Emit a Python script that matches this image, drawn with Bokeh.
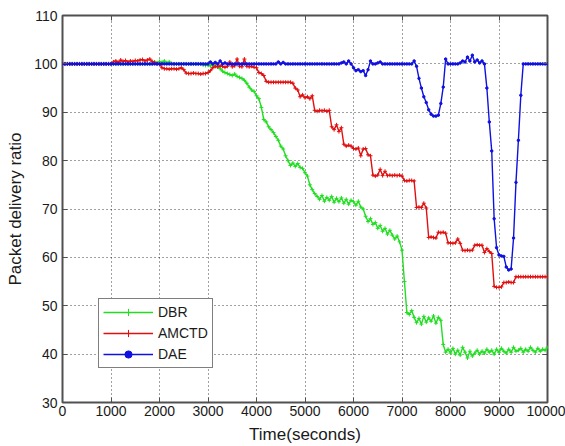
from bokeh.plotting import figure
from bokeh.models import Range1d, FixedTicker, LinearAxis, Legend, LegendItem
from bokeh.embed import file_html
from bokeh.resources import INLINE

# ---------------- data ----------------
time_s = list(range(0, 10001, 50))

dbr = [
    100, 100, 100, 100, 100, 100, 100, 100, 100, 100, 100, 100, 100, 100, 100, 100, 100, 100, 100, 100,
    100, 100, 100, 100, 100, 100, 100, 100, 100, 100, 100, 100, 100, 100, 100, 100, 100, 100, 100.4, 100.2,
    100.5, 100.3, 100.6, 100.2, 100.4, 100.1, 100, 100, 100, 100, 100, 100, 100, 100, 100, 100, 100, 100, 99.8, 99.7,
    99.7, 99.6, 99.8, 99.5, 99.4, 99.0, 98.5, 98.2, 98.0, 97.8, 97.6, 97.9, 97.4, 97.2, 97.0, 96.6, 96.0, 95.2, 94.6, 94.3,
    93.4, 92.8, 91.0, 88.5, 88.0, 87.0, 86.4, 85.8, 85.0, 84.2, 83.0, 82.4, 81.0, 80.0, 79.0, 79.5, 78.8, 79.4, 78.6, 78.4,
    77.5, 76.8, 75.0, 74.0, 73.2, 72.6, 72.0, 72.8, 71.6, 72.4, 71.8, 72.6, 71.4, 72.2, 71.5, 72.3, 71.2, 72.0, 71.0, 71.8,
    71.5, 70.8, 71.6, 70.4, 70.0, 68.5, 67.4, 68.0, 66.8, 67.2, 66.0, 66.6, 65.4, 66.0, 64.8, 65.6, 64.6, 63.8, 64.4, 63.2,
    61.5, 55.0, 48.6, 48.2, 49.0, 47.6, 46.5, 47.4, 46.2, 47.8, 46.6, 47.5, 46.8, 47.9, 46.4, 47.6, 47.0, 42.0, 40.4, 41.0,
    40.2, 41.2, 40.0, 40.8, 39.8, 41.4, 40.4, 39.2, 40.6, 39.6, 40.2, 40.8, 40.0, 40.6, 40.2, 41.0, 40.4, 40.8, 40.0, 41.0,
    40.4, 41.2, 40.6, 40.2, 41.0, 40.4, 41.4, 40.6, 40.8, 41.2, 40.4, 41.0, 40.6, 41.4, 40.8, 40.4, 41.2, 40.6, 41.0, 40.8,
    41.4,
]

amctd = [
    100, 100, 100, 100, 100, 100, 100, 100, 100, 100, 100, 100, 100, 100, 100, 100, 100, 100, 100, 100,
    100, 100.4, 100.6, 100.3, 100.8, 100.5, 100.7, 100.4, 100.6, 100.5, 100.7, 100.6, 100.8, 100.9, 100.6, 100.8, 101.0, 100.5, 100.3, 100,
    100, 99.2, 99.0, 99.0, 98.9, 99.0, 99.0, 98.9, 99.0, 99.2, 98.8, 98.1, 98.0, 98.0, 98.1, 98.0, 98.0, 97.9, 98.0, 98.0,
    98.2, 98.6, 99.2, 99.5, 99.4, 99.6, 99.5, 99.3, 99.5, 100.4, 99.4, 99.6, 101.0, 99.5, 99.4, 101.0, 99.5, 99.4, 99.5, 99.3,
    99.2, 98.2, 98.0, 97.6, 96.4, 96.2, 96.2, 96.2, 96.2, 96.2, 96.2, 96.2, 96.2, 96.2, 96.2, 96.0, 95.0, 94.6, 93.2, 93.6,
    93.0, 93.2, 92.8, 93.4, 90.4, 90.2, 90.4, 90.3, 90.4, 90.2, 90.4, 87.0, 86.4, 87.4, 86.0, 86.8, 83.4, 83.0, 83.2, 83.0,
    82.5, 82.4, 82.6, 81.0, 82.4, 82.5, 81.2, 81.0, 77.0, 76.8, 77.0, 78.2, 76.9, 77.8, 76.9, 77.0, 76.9, 77.0, 76.9, 77.0,
    76.8, 75.9, 75.8, 75.9, 75.9, 75.8, 70.3, 70.4, 70.3, 71.2, 70.2, 64.1, 64.2, 64.1, 64.0, 65.2, 65.1, 65.2, 65.0, 63.0,
    63.0, 62.9, 63.0, 63.8, 62.9, 61.5, 61.4, 61.5, 61.4, 61.5, 62.5, 62.6, 62.5, 62.5, 61.0, 61.8, 61.2, 60.8, 54.0, 53.8,
    53.8, 53.9, 54.8, 54.8, 54.9, 54.8, 54.8, 56.0, 56.0, 56.0, 56.0, 56.0, 56.0, 56.0, 56.0, 56.0, 56.0, 56.0, 56.0, 56.0,
    56.0,
]

dae = [
    100, 100, 100, 100, 100, 100, 100, 100, 100, 100, 100, 100, 100, 100, 100, 100, 100, 100, 100, 100,
    100, 100, 100, 100, 100, 100, 100, 100, 100, 100, 100, 100, 100, 100, 100, 100, 100, 100, 100, 100,
    100, 100, 100, 100, 100, 100, 100, 100, 100, 100, 100, 100, 100, 100, 100, 100, 100, 100, 100, 100,
    100, 100.4, 100, 100.3, 100, 100.6, 100, 100.2, 100, 100, 100, 100, 100, 100, 100, 100, 100, 100, 100, 100,
    100, 100, 100, 100, 100, 100, 100, 100, 100, 100.4, 100, 100.3, 100, 100, 100, 100, 100, 100, 100, 100,
    100, 100, 100, 100, 100, 100, 100, 100, 100, 100, 100, 100, 100, 100, 100, 100.2, 100.4, 100, 100.6, 100,
    99.2, 98.6, 98.8, 98.4, 98.6, 97.6, 98.8, 100.6, 100, 100, 100.2, 100.4, 100, 100, 100, 100, 100, 100, 100, 100,
    100, 100, 100, 100, 100, 100.6, 99.5, 97.0, 95.0, 93.2, 92.0, 90.5, 89.6, 89.2, 89.2, 89.4, 91.8, 95.2, 101.0, 100,
    100, 100, 100, 100, 100.2, 100.6, 100.4, 101.4, 100.6, 101.8, 100.4, 100.8, 100.2, 100.6, 100, 95.0, 88.0, 82.0, 68.0, 62.0,
    60.5, 60.3, 60.2, 58.0, 57.4, 57.6, 64.0, 75.5, 84.2, 93.5, 100, 100, 100, 100, 100, 100, 100, 100, 100, 100,
    100,
]

series_names = ["DBR", "AMCTD", "DAE"]
x_ticks = [0, 1000, 2000, 3000, 4000, 5000, 6000, 7000, 8000, 9000, 10000]
y_ticks = [30, 40, 50, 60, 70, 80, 90, 100, 110]

# ---------------- styling ----------------
FONT = "Liberation Sans"
TXT = "#1a1a1a"
FRAME = "#505050"
colors = ["#22dd22", "#e01010", "#1010e0"]

p = figure(width=565, height=446, output_backend="svg", toolbar_location=None,
           x_range=Range1d(0, 10000), y_range=Range1d(30, 110),
           min_border_left=62, min_border_right=18, min_border_top=15, min_border_bottom=44,
           background_fill_color="white", border_fill_color="white")

p.outline_line_color = FRAME
p.outline_line_width = 2

# extra top / right axes for MATLAB-style box ticks (no labels)
top_ax = LinearAxis(ticker=FixedTicker(ticks=x_ticks),
                    major_label_overrides={t: "" for t in x_ticks})
right_ax = LinearAxis(ticker=FixedTicker(ticks=y_ticks),
                      major_label_overrides={t: "" for t in y_ticks})
p.add_layout(top_ax, "above")
p.add_layout(right_ax, "right")

p.below[0].ticker = FixedTicker(ticks=x_ticks)
p.left[0].ticker = FixedTicker(ticks=y_ticks)

for ax in p.axis:
    ax.axis_line_color = None
    ax.major_tick_in = 5
    ax.major_tick_out = 0
    ax.minor_tick_line_color = None
    ax.major_tick_line_color = FRAME
    ax.major_label_text_font = FONT
    ax.major_label_text_font_size = "14px"
    ax.major_label_text_color = TXT
    ax.axis_label_text_font = FONT
    ax.axis_label_text_font_style = "normal"
    ax.axis_label_text_color = TXT
    ax.axis_label_text_font_size = "17px"

top_ax.major_label_standoff = 0
right_ax.major_label_standoff = 0

p.below[0].axis_label = "Time(seconds)"
p.below[0].major_label_standoff = 3
p.below[0].axis_label_standoff = 6
p.left[0].axis_label = "Packet delivery ratio"
p.left[0].major_label_standoff = 5
p.left[0].axis_label_standoff = 6

p.xgrid.grid_line_color = "#000000"
p.xgrid.grid_line_alpha = 0.75
p.xgrid.grid_line_dash = "1 3"
p.ygrid.grid_line_color = "#000000"
p.ygrid.grid_line_alpha = 0.75
p.ygrid.grid_line_dash = "1 3"

items = []
series_values = [dbr, amctd, dae]
for name, vals, col in zip(series_names, series_values, colors):
    rl = p.line(time_s, vals, line_color=col, line_width=1.4)
    if name == "DAE":
        rm = p.scatter(time_s, vals, marker="circle", size=2.5, line_color=col, fill_color=col)
    else:
        rm = p.scatter(time_s, vals, marker="cross", size=4, line_color=col, line_width=1)
    items.append(LegendItem(label=name, renderers=[rl, rm]))

legend = Legend(items=items, location=(36, 34))
legend.label_text_font = FONT
legend.label_text_font_size = "14px"
legend.label_text_color = TXT
legend.glyph_width = 50
legend.glyph_height = 18
legend.label_height = 18
legend.spacing = 3
legend.padding = 4
legend.margin = 0
legend.label_standoff = 5
legend.border_line_color = "#000000"
legend.border_line_width = 1
legend.background_fill_color = "white"
legend.background_fill_alpha = 1
p.add_layout(legend)

open("out.html", "w").write(file_html(p, INLINE))
